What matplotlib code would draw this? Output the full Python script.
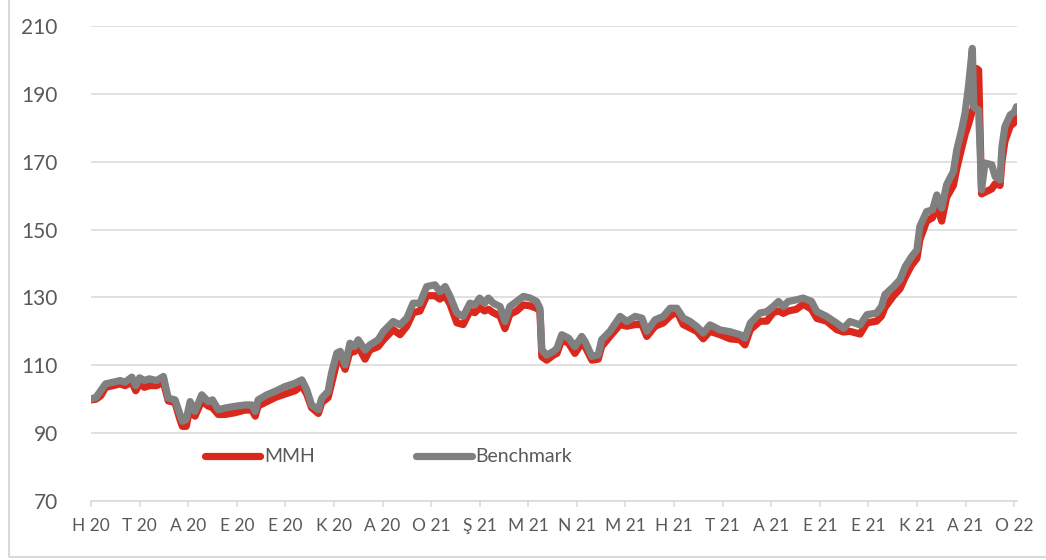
import matplotlib
matplotlib.use("Agg")
import matplotlib.pyplot as plt
from matplotlib.patches import Rectangle

plt.rcParams['font.family'] = ['Lato', 'DejaVu Sans']

# months since June 2020 (0 = H 20, 19 = O 22)
months = [0.00, 0.10, 0.20, 0.30, 0.45, 0.60, 0.70, 0.84, 0.92, 1.00,
          1.10, 1.20, 1.35, 1.49, 1.59, 1.73, 1.82, 1.88, 1.96, 2.04,
          2.14, 2.28, 2.41, 2.50, 2.62, 2.76, 2.96, 3.17, 3.31, 3.38,
          3.44, 3.62, 3.79, 3.99, 4.20, 4.34, 4.44, 4.54, 4.68, 4.75,
          4.88, 4.95, 5.06, 5.13, 5.23, 5.33, 5.42, 5.50, 5.64, 5.74,
          5.91, 6.02, 6.22, 6.36, 6.50, 6.63, 6.77, 6.91, 7.08, 7.18,
          7.29, 7.39, 7.53, 7.66, 7.80, 7.90, 8.00, 8.10, 8.18, 8.28,
          8.42, 8.52, 8.62, 8.76, 8.90, 9.04, 9.17, 9.24, 9.28, 9.38,
          9.52, 9.59, 9.69, 9.83, 9.96, 10.10, 10.17, 10.31, 10.44, 10.51,
          10.68, 10.89, 11.03, 11.20, 11.34, 11.44, 11.61, 11.78, 11.92, 12.06,
          12.19, 12.33, 12.47, 12.60, 12.74, 12.95, 13.15, 13.36, 13.46, 13.57,
          13.77, 13.91, 14.04, 14.15, 14.25, 14.35, 14.52, 14.66, 14.83, 14.94,
          15.14, 15.35, 15.49, 15.62, 15.83, 15.97, 16.17, 16.27, 16.34, 16.52,
          16.65, 16.76, 16.89, 17.00, 17.06, 17.20, 17.32, 17.41, 17.51, 17.61,
          17.75, 17.82, 17.92, 17.99, 18.06, 18.14, 18.17, 18.22, 18.27, 18.33,
          18.40, 18.54, 18.61, 18.71, 18.75, 18.81, 18.92, 19.00, 19.05]

benchmark = [100.1, 100.5, 102.5, 104.5, 105.0, 105.5, 105.0, 106.5, 104.0, 106.3,
             105.5, 106.0, 105.5, 106.7, 100.3, 99.8, 96.0, 93.5, 94.0, 99.3,
             96.4, 101.3, 99.3, 99.8, 96.9, 97.4, 97.9, 98.3, 98.3, 96.4,
             99.8, 101.3, 102.3, 103.7, 104.7, 105.7, 102.8, 98.3, 96.9, 100.3,
             102.3, 107.7, 113.6, 114.1, 110.1, 116.5, 115.5, 117.5, 114.5, 116.0,
             117.5, 120.0, 122.9, 121.9, 123.9, 128.3, 128.3, 133.2, 133.7, 131.7,
             133.2, 130.3, 125.4, 124.4, 128.3, 127.8, 129.8, 128.3, 129.8, 128.3,
             127.3, 122.9, 127.3, 128.8, 130.3, 129.8, 128.8, 126.8, 114.5, 113.0,
             114.1, 115.0, 119.0, 118.0, 115.5, 118.5, 117.0, 112.6, 113.1, 117.5,
             120.0, 124.4, 122.9, 124.4, 123.9, 120.0, 123.4, 124.4, 126.8, 126.8,
             123.9, 122.9, 121.4, 119.5, 121.9, 120.4, 119.9, 119.0, 118.0, 122.4,
             125.4, 125.8, 127.3, 128.8, 127.3, 128.8, 129.3, 129.8, 128.8, 125.8,
             124.4, 122.4, 120.9, 122.9, 121.9, 124.9, 125.4, 127.3, 130.8, 133.2,
             135.2, 139.1, 142.0, 144.0, 150.9, 155.3, 155.8, 160.2, 156.3, 163.2,
             167.1, 173.5, 179.4, 184.3, 192.1, 203.4, 186.2, 185.5, 185.3, 161.7,
             169.6, 169.1, 165.6, 164.6, 174.4, 180.3, 183.8, 184.5, 186.2]

mmh = [99.8, 100.0, 101.0, 103.5, 104.0, 104.5, 104.0, 105.0, 102.5, 104.5,
       103.5, 104.0, 104.0, 105.0, 99.5, 99.0, 94.5, 92.0, 92.0, 97.5,
       95.0, 99.5, 98.0, 97.5, 95.5, 95.5, 96.0, 96.8, 96.8, 95.0,
       98.0, 99.3, 100.5, 101.5, 102.5, 104.0, 101.5, 97.5, 95.8, 99.0,
       100.5, 104.5, 111.0, 112.0, 108.8, 114.0, 114.0, 115.5, 111.8, 114.5,
       115.5, 117.5, 120.5, 119.0, 121.5, 125.5, 126.0, 130.5, 130.5, 129.5,
       130.5, 128.0, 122.5, 122.0, 126.0, 125.5, 127.0, 126.0, 126.5, 125.5,
       124.5, 120.8, 125.0, 126.0, 127.8, 127.5, 126.8, 126.0, 112.5, 111.5,
       113.0, 113.5, 117.5, 116.5, 113.5, 116.5, 115.5, 111.5, 111.8, 115.5,
       118.5, 122.0, 121.5, 122.0, 122.0, 118.5, 121.5, 122.5, 124.5, 125.8,
       122.0, 121.0, 120.0, 117.8, 120.0, 119.0, 117.8, 117.5, 116.0, 120.5,
       123.0, 123.0, 125.5, 126.0, 125.3, 126.0, 126.5, 128.0, 126.5, 123.8,
       123.0, 120.5, 119.8, 120.0, 119.2, 122.5, 123.0, 124.5, 127.0, 130.5,
       132.5, 136.0, 139.5, 141.5, 147.0, 152.5, 153.5, 157.0, 152.5, 159.5,
       163.0, 168.0, 174.0, 178.0, 181.0, 185.0, 185.5, 197.5, 197.0, 160.5,
       161.0, 162.0, 163.5, 163.0, 170.0, 176.0, 180.5, 181.5, 183.3]

tick_labels = ['H 20', 'T 20', 'A 20', 'E 20', 'E 20', 'K 20', 'A 20', 'O 21',
               'Ş 21', 'M 21', 'N 21', 'M 21', 'H 21', 'T 21', 'A 21', 'E 21',
               'E 21', 'K 21', 'A 21', 'O 22']
y_ticks = [70, 90, 110, 130, 150, 170, 190, 210]

text_col = '#595959'
grid_col = '#D9D9D9'

fig = plt.figure(figsize=(10.46, 5.60), dpi=100)
ax = fig.add_axes([0.087, 0.1054, 0.8853, 0.8482])

# outer chart frame (only left/bottom edges are inside the picture)
fig.patches.append(Rectangle((0.0086, 0.0054), 1.2, 1.2, transform=fig.transFigure,
                             fill=False, edgecolor=grid_col, linewidth=1.5))

ax.plot(months, mmh, color='#DA291C', lw=5.2, label='MMH',
        solid_capstyle='round', solid_joinstyle='round', zorder=3)
ax.plot(months, benchmark, color='#808080', lw=5.2, label='Benchmark',
        solid_capstyle='round', solid_joinstyle='round', zorder=4)

ax.set_xlim(0, 19.06)
ax.set_ylim(70, 210)
ax.set_yticks(y_ticks)
ax.set_xticks(range(len(tick_labels)))
ax.set_xticklabels(tick_labels)

ax.grid(axis='y', color=grid_col, lw=1.1, zorder=0)
for s in ['top', 'right', 'left']:
    ax.spines[s].set_visible(False)
ax.spines['bottom'].set_color(grid_col)
ax.spines['bottom'].set_linewidth(1.1)

ax.tick_params(axis='y', length=0, pad=24, labelsize=15, labelcolor=text_col)
ax.tick_params(axis='x', length=4, width=1.1, color=grid_col, pad=8,
               labelsize=12.5, labelcolor=text_col)

leg = ax.legend(loc='center left', bbox_to_anchor=(0.1231, 0.0926), ncol=2,
                frameon=False, fontsize=14, handlelength=2.85, handletextpad=0.2,
                columnspacing=5.2, borderpad=0, borderaxespad=0)
for t in leg.get_texts():
    t.set_color(text_col)

fig.savefig('out.png', dpi=100)
